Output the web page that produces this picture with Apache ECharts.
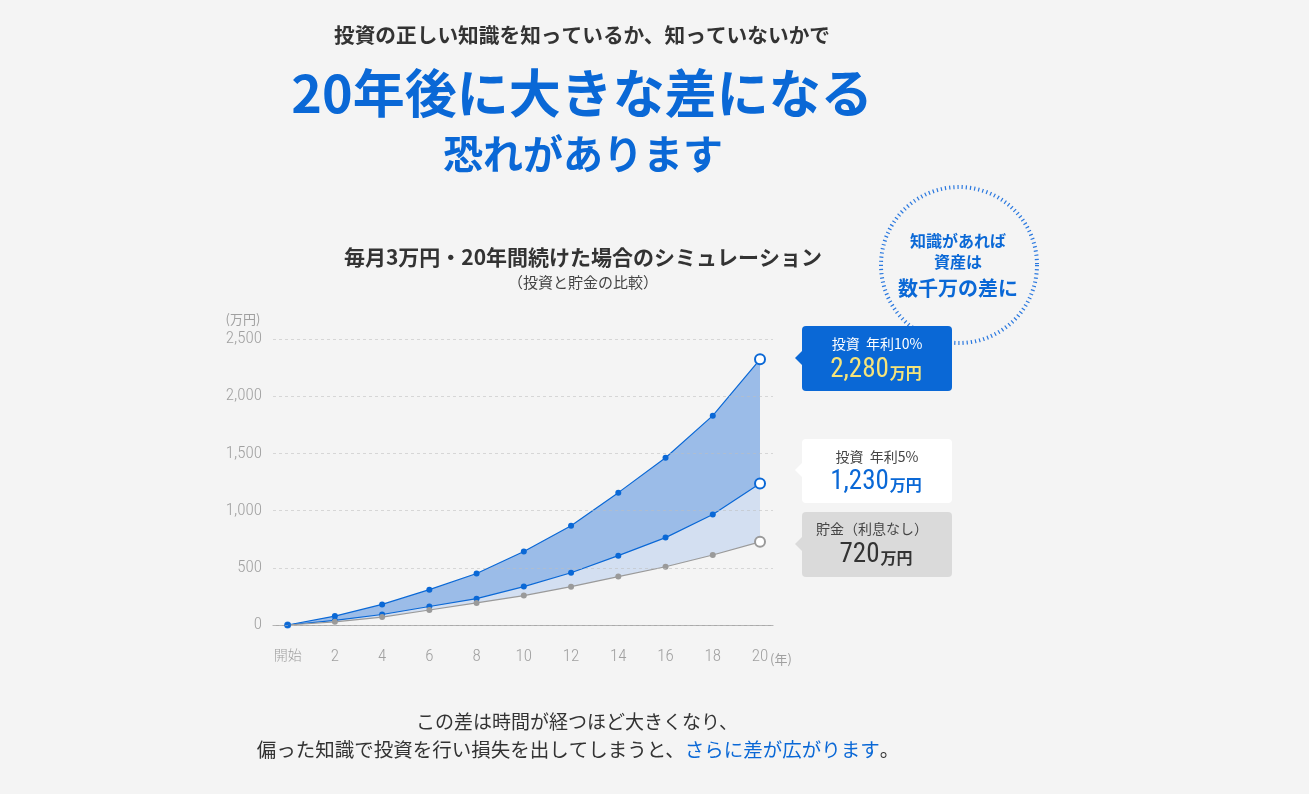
<!DOCTYPE html>
<html>
<head>
<meta charset="utf-8">
<script src="https://cdn.jsdelivr.net/npm/echarts@6/dist/echarts.min.js"></script>
<style>
html,body{margin:0;padding:0;background:#f4f4f4;}
#chart{width:1309px;height:794px;}
</style>
</head>
<body>
<div id="chart"></div>
<script>
// ---- data ----
const years = [0, 2, 4, 6, 8, 10, 12, 14, 16, 18, 20];
const invest10 = [0, 78, 180, 309, 450, 642, 868, 1157, 1462, 1830, 2322];
const invest5 = [0, 40, 92, 162, 230, 336, 457, 606, 764, 966, 1236];
const savings = [0, 28, 69, 131, 193, 257, 335, 423, 509, 612, 727];
const yTicks = [0, 500, 1000, 1500, 2000, 2500];
const xTickLabels = ['開始', '2', '4', '6', '8', '10', '12', '14', '16', '18', '20'];
const finalLabels = { invest10: '2,280', invest5: '1,230', savings: '720' };

const BLUE = '#0a68d6';
const GRAY = '#9a9a9a';
const BG = '#f4f4f4';
const JP = "'Noto Sans CJK JP', 'Noto Sans', sans-serif";
const NUM = "'Roboto Condensed', 'Liberation Sans Narrow', 'DejaVu Sans Condensed', Roboto, sans-serif";

function mk(vals, color, hideFirst) {
  return years.map((x, i) => {
    if (i === years.length - 1) {
      return { value: [x, vals[i]], symbolSize: 10,
        itemStyle: { color: '#fff', borderColor: color, borderWidth: 2 } };
    }
    if (i === 0 && hideFirst) return { value: [x, vals[i]], symbol: 'none' };
    return { value: [x, vals[i]] };
  });
}

const chart = echarts.init(document.getElementById('chart'), null, { renderer: 'canvas' });

const option = {
  backgroundColor: BG,
  animation: false,
  grid: { left: 273, right: 536, top: 339, bottom: 169 },
  xAxis: {
    type: 'value', min: -0.62, max: 20.55,
    axisLine: { show: true, onZero: true, lineStyle: { color: '#aaaaaa', width: 1 } },
    axisTick: { show: false },
    splitLine: { show: false },
    axisLabel: {
      customValues: years,
      margin: 23,
      color: '#a0a0a0', fontSize: 17, fontFamily: NUM, fontWeight: 300,
      formatter: (v) => {
        const i = years.indexOf(v);
        return i === 0 ? '{k|' + xTickLabels[0] + '}' : xTickLabels[i];
      },
      rich: { k: { fontSize: 14, fontFamily: JP, color: '#a0a0a0' } }
    }
  },
  yAxis: {
    type: 'value', min: yTicks[0], max: yTicks[yTicks.length - 1], interval: 500,
    z: 10,
    axisLine: { show: false }, axisTick: { show: false },
    splitLine: { show: true, lineStyle: { color: 'rgba(190,190,190,0.55)', type: [3, 3], width: 1 } },
    axisLabel: {
      margin: 11, color: '#a0a0a0', fontSize: 17, fontFamily: NUM, fontWeight: 300,
      formatter: (v) => v.toLocaleString('en-US')
    }
  },
  series: [
    {
      name: '投資 年利10%', type: 'line',
      data: mk(invest10, BLUE, false),
      symbol: 'circle', symbolSize: 6,
      lineStyle: { color: BLUE, width: 1.2 },
      itemStyle: { color: BLUE },
      areaStyle: { color: '#9bbce8', opacity: 1 },
      z: 3
    },
    {
      name: '投資 年利5%', type: 'line',
      data: mk(invest5, BLUE, true),
      symbol: 'circle', symbolSize: 6,
      lineStyle: { color: BLUE, width: 1.2 },
      itemStyle: { color: BLUE },
      areaStyle: { color: '#d3dff1', opacity: 1 },
      z: 4
    },
    {
      name: '貯金（利息なし）', type: 'line',
      data: mk(savings, GRAY, true),
      symbol: 'circle', symbolSize: 6,
      lineStyle: { color: GRAY, width: 1.2 },
      itemStyle: { color: GRAY },
      areaStyle: { color: BG, opacity: 1 },
      z: 5
    },
    {
      name: 'start', type: 'scatter',
      data: [[years[0], invest10[0]]],
      symbol: 'circle', symbolSize: 7,
      itemStyle: { color: BLUE },
      z: 6
    }
  ],
  graphic: [
    // headings
    { type: 'text', style: { text: '投資の正しい知識を知っているか、知っていないかで', x: 582, y: 35, align: 'center', verticalAlign: 'middle', fill: '#333', font: "bold 20.7px " + JP } },
    { type: 'text', style: { text: '20年後に大きな差になる', x: 582, y: 93, align: 'center', verticalAlign: 'middle', fill: BLUE, font: "bold 52px " + JP } },
    { type: 'text', style: { text: '恐れがあります', x: 583, y: 154, align: 'center', verticalAlign: 'middle', fill: BLUE, font: "bold 40px " + JP } },
    { type: 'text', style: { text: '毎月3万円・20年間続けた場合のシミュレーション', x: 583, y: 257, align: 'center', verticalAlign: 'middle', fill: '#333', font: "bold 21px " + JP } },
    { type: 'text', style: { text: '（投資と貯金の比較）', x: 583, y: 282, align: 'center', verticalAlign: 'middle', fill: '#444', font: "15px " + JP } },
    // axis units
    { type: 'text', style: { text: '(万円)', x: 243, y: 319, align: 'center', verticalAlign: 'middle', fill: '#a0a0a0', font: "13px " + JP } },
    { type: 'text', style: { text: '(年)', x: 781, y: 659, align: 'center', verticalAlign: 'middle', fill: '#a0a0a0', font: "13px " + JP } },
    // dotted circle badge
    { type: 'circle', z: 10, shape: { cx: 959, cy: 265, r: 78 }, style: { fill: 'none', stroke: '#2a78df', lineWidth: 4, lineDash: [1.2, 3] } },
    { type: 'text', z: 11, style: { text: '知識があれば', x: 958, y: 241, align: 'center', verticalAlign: 'middle', fill: BLUE, font: "bold 16px " + JP } },
    { type: 'text', z: 11, style: { text: '資産は', x: 958, y: 262, align: 'center', verticalAlign: 'middle', fill: BLUE, font: "bold 16px " + JP } },
    { type: 'text', z: 11, style: { text: '数千万の差に', x: 958, y: 288, align: 'center', verticalAlign: 'middle', fill: BLUE, font: "bold 20px " + JP } },
    // callout 1
    { type: 'rect', z: 20, shape: { x: 802, y: 326, width: 150, height: 65, r: 4 }, style: { fill: BLUE } },
    { type: 'polygon', z: 20, shape: { points: [[803, 350], [795, 358], [803, 366]] }, style: { fill: BLUE } },
    { type: 'text', z: 21, style: { text: '投資  年利10%', x: 877, y: 344, align: 'center', verticalAlign: 'middle', fill: '#fff', font: "14px " + JP } },
    { type: 'text', z: 21, style: { text: '{n|' + finalLabels.invest10 + '}{u|万円}', x: 876, y: 370, align: 'center', verticalAlign: 'middle',
      rich: { n: { fill: '#f6e47a', fontSize: 27, fontFamily: NUM, fontWeight: 'normal' }, u: { fill: '#f6e47a', fontSize: 16, fontFamily: JP, fontWeight: 'bold', padding: [6, 0, 0, 1] } } } },
    // callout 2
    { type: 'rect', z: 20, shape: { x: 802, y: 439, width: 150, height: 64, r: 4 }, style: { fill: '#ffffff' } },
    { type: 'polygon', z: 20, shape: { points: [[803, 462], [795, 470], [803, 478]] }, style: { fill: '#ffffff' } },
    { type: 'text', z: 21, style: { text: '投資  年利5%', x: 877, y: 457, align: 'center', verticalAlign: 'middle', fill: '#444', font: "14px " + JP } },
    { type: 'text', z: 21, style: { text: '{n|' + finalLabels.invest5 + '}{u|万円}', x: 876, y: 482, align: 'center', verticalAlign: 'middle',
      rich: { n: { fill: BLUE, fontSize: 27, fontFamily: NUM, fontWeight: 'normal' }, u: { fill: BLUE, fontSize: 16, fontFamily: JP, fontWeight: 'bold', padding: [6, 0, 0, 1] } } } },
    // callout 3
    { type: 'rect', z: 20, shape: { x: 802, y: 512, width: 150, height: 65, r: 4 }, style: { fill: '#dadada' } },
    { type: 'polygon', z: 20, shape: { points: [[803, 536], [795, 544], [803, 552]] }, style: { fill: '#dadada' } },
    { type: 'text', z: 21, style: { text: '貯金（利息なし）', x: 872, y: 529, align: 'center', verticalAlign: 'middle', fill: '#444', font: "14px " + JP } },
    { type: 'text', z: 21, style: { text: '{n|' + finalLabels.savings + '}{u|万円}', x: 876, y: 555, align: 'center', verticalAlign: 'middle',
      rich: { n: { fill: '#333', fontSize: 27, fontFamily: NUM, fontWeight: 'normal' }, u: { fill: '#333', fontSize: 16, fontFamily: JP, fontWeight: 'bold', padding: [6, 0, 0, 1] } } } },
    // bottom text
    { type: 'text', style: { text: 'この差は時間が経つほど大きくなり、', x: 577, y: 722, align: 'center', verticalAlign: 'middle', fill: '#333', font: "19px " + JP } },
    { type: 'text', style: { text: '偏った知識で投資を行い損失を出してしまうと、{b|さらに差が広がります}。', x: 578, y: 750, align: 'center', verticalAlign: 'middle', fill: '#333', font: "19.5px " + JP,
      rich: { b: { fill: BLUE, fontSize: 19.5, fontFamily: JP } } } }
  ]
};
chart.setOption(option);
</script>
</body>
</html>
